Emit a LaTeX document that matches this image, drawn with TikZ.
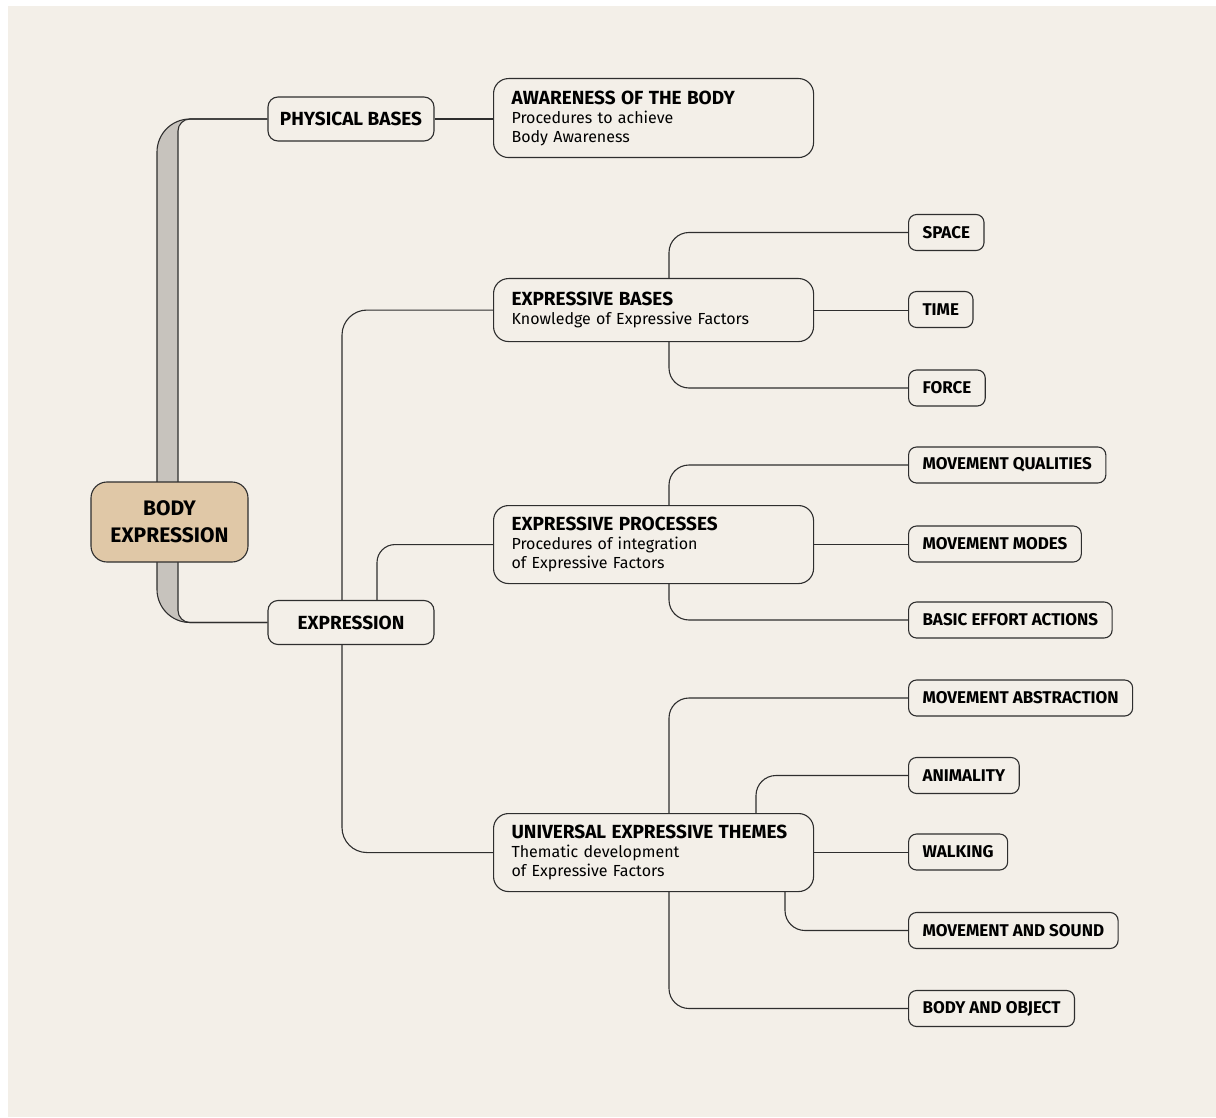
\documentclass[tikz,border=0pt]{standalone}
\usepackage{fontspec}
\setmainfont{Fira Sans}
\definecolor{paper}{HTML}{F3EFE8}
\definecolor{linecol}{HTML}{2E2E2E}
\definecolor{bodycol}{HTML}{E0C8A7}
\definecolor{barcol}{HTML}{C7C3BD}
\newcommand\headline[1]{{\fontsize{19}{19}\selectfont\bfseries #1}}
\begin{document}
\begin{tikzpicture}[x=1pt,y=-1pt,
    link/.style={draw=linecol, line width=1.1pt},
    topbox/.style={draw=linecol, line width=1.1pt, fill=paper, rounded corners=10pt,
        minimum width=166pt, minimum height=44pt, font=\fontsize{19}{20}\selectfont\bfseries},
    mainbox/.style={draw=linecol, line width=1.1pt, fill=paper, rounded corners=15pt,
        text width=284pt, inner xsep=18pt, align=left, anchor=north west,
        font=\fontsize{16}{19}\selectfont},
    leafbox/.style={draw=linecol, line width=1.1pt, fill=paper, rounded corners=8pt,
        minimum height=36pt, inner xsep=14pt, anchor=west,
        font=\fontsize{17}{18}\selectfont\bfseries}]
    \useasboundingbox (0,0) rectangle (1216,1118);
    \fill[paper] (8,6) rectangle (1216,1117);

    \node[topbox] (pb) at (351,119) {PHYSICAL BASES};
    \node[topbox] (ex) at (351,622.5) {EXPRESSION};

    \fill[barcol] (pb.west) [rounded corners=33pt] -| (157,370) |- (ex.west)
        [rounded corners=12pt] -| (178,370) |- (pb.west);
    \draw[link, rounded corners=33pt] (pb.west) -| (157,370) |- (ex.west);
    \draw[link, rounded corners=12pt] (pb.west) -| (178,370) |- (ex.west);

    \node[draw=linecol, line width=1.1pt, fill=bodycol, rounded corners=16pt,
        minimum width=157pt, minimum height=80pt, align=center,
        font=\fontsize{21}{27}\selectfont\bfseries] (body) at (169.5,522) {BODY\\EXPRESSION};

    \node[mainbox, minimum height=79pt] (aw) at (493,78)
        {\headline{AWARENESS OF THE BODY}\\Procedures to achieve\\Body Awareness};
    \node[mainbox, minimum height=63pt] (eb) at (493,278)
        {\headline{EXPRESSIVE BASES}\\Knowledge of Expressive Factors};
    \node[mainbox, minimum height=78pt] (ep) at (493,505)
        {\headline{EXPRESSIVE PROCESSES}\\Procedures of integration\\of Expressive Factors};
    \node[mainbox, minimum height=78pt] (ut) at (493,813)
        {\headline{UNIVERSAL EXPRESSIVE THEMES}\\Thematic development\\of Expressive Factors};

    \node[leafbox] (space) at (908,232.5) {SPACE};
    \node[leafbox] (time) at (908,309.5) {TIME};
    \node[leafbox] (force) at (908,388) {FORCE};
    \node[leafbox] (mq) at (908,465) {MOVEMENT QUALITIES};
    \node[leafbox] (mm) at (908,544) {MOVEMENT MODES};
    \node[leafbox] (bea) at (908,620) {BASIC EFFORT ACTIONS};
    \node[leafbox] (ma) at (908,698) {MOVEMENT ABSTRACTION};
    \node[leafbox] (an) at (908,775.5) {ANIMALITY};
    \node[leafbox] (wk) at (908,852) {WALKING};
    \node[leafbox] (ms) at (908,930.5) {MOVEMENT AND SOUND};
    \node[leafbox] (bo) at (908,1008.5) {BODY AND OBJECT};

    \draw[link] (pb.east) -- (pb.east -| aw.west);
    \draw[link, rounded corners=25pt] (342,0 |- ex.north) |- (eb.west);
    \draw[link, rounded corners=25pt] (342,0 |- ex.south) |- (ut.west);
    \draw[link, rounded corners=18pt] (377,0 |- ex.north) |- (ep.west);

    \draw[link, rounded corners=20pt] (669,0 |- eb.north) |- (space.west);
    \draw[link] (eb.east) -- (eb.east -| time.west);
    \draw[link, rounded corners=20pt] (669,0 |- eb.south) |- (force.west);

    \draw[link, rounded corners=20pt] (669,0 |- ep.north) |- (mq.west);
    \draw[link] (ep.east) -- (ep.east -| mm.west);
    \draw[link, rounded corners=20pt] (669,0 |- ep.south) |- (bea.west);

    \draw[link, rounded corners=20pt] (669,0 |- ut.north) |- (ma.west);
    \draw[link, rounded corners=20pt] (756,0 |- ut.north) |- (an.west);
    \draw[link] (ut.east) -- (ut.east -| wk.west);
    \draw[link, rounded corners=20pt] (785,0 |- ut.south) |- (ms.west);
    \draw[link, rounded corners=20pt] (669,0 |- ut.south) |- (bo.west);
\end{tikzpicture}
\end{document}
